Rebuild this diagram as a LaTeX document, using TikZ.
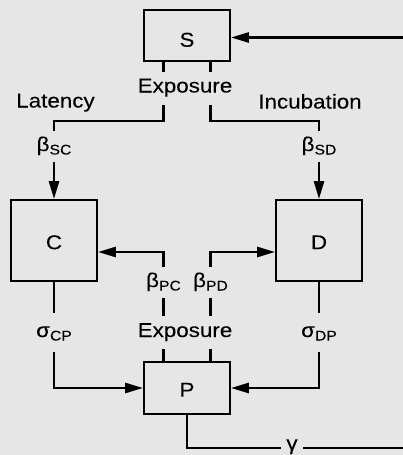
\documentclass[tikz,border=0pt]{standalone}
\usepackage{fontspec}
\setmainfont{Liberation Sans}[FakeStretch=1.12,FakeBold=0.1]
\usepackage{tikz}
\usetikzlibrary{arrows.meta}
\definecolor{bggray}{HTML}{E6E6E6}
\newcommand{\subs}[1]{\raisebox{-3.5pt}{\fontsize{14pt}{14pt}\selectfont #1}}
\tikzset{
  flowarrow/.style={-{Triangle[length=18pt,width=10pt]}, line width=2.6pt, draw=black},
  flowline/.style={line width=2.6pt, draw=black},
  compart/.style={draw=black, line width=1.8pt, fill=bggray, minimum width=86pt,
    text height=17.4pt, text depth=0pt, font=\fontsize{20pt}{24pt}\selectfont},
  rate/.style={fill=bggray, anchor=base, inner xsep=1pt, inner ysep=5pt,
    text height=15pt, text depth=6pt, font=\fontsize{20pt}{24pt}\selectfont},
  tag/.style={anchor=base, inner sep=0pt, font=\fontsize{20pt}{24pt}\selectfont}
}
\begin{document}
\begin{tikzpicture}[x=1pt, y=-1pt]
        \fill[bggray] (0,0) rectangle (403,455);
        \useasboundingbox (0,0) rectangle (403,455);
        % compartments
        \node[compart, minimum height=51pt, text height=22.4pt] (S) at (187,35.5) {S};
        \node[compart, minimum height=81pt] (C) at (54,240.5) {C};
        \node[compart, minimum height=81pt] (D) at (319,240.5) {D};
        \node[compart, minimum height=52pt] (P) at (187,388) {P};
        \coordinate (sret) at (403,37.5);
        \coordinate (gend) at (403,448);

        % flows
        \draw[flowarrow] ([xshift=-23.5pt]S.south) -- ++(0,59) -| (C.north);
        \draw[flowarrow] ([xshift=23.5pt]S.south) -- ++(0,59) -| (D.north);
        \draw[flowarrow] ([xshift=-23.5pt]P.north) |- ([yshift=-11.5pt]C.east);
        \draw[flowarrow] ([xshift=23.5pt]P.north) |- ([yshift=-11.5pt]D.west);
        \draw[flowarrow] (C.south) |- (P.west);
        \draw[flowarrow] (D.south) |- (P.east);
        \draw[flowline] (P.south) |- (gend);
        \draw[flowarrow] (sret) -- (S.east |- sret);

        % labels
        \node[rate, inner ysep=6pt] (expS) at (185,92.5) {Exposure};
        \node[rate, inner ysep=6pt] (expP) at (185,337) {Exposure};
        \node[tag] (lat) at (55.5,107.5) {Latency};
        \node[tag] (inc) at (310,108.5) {Incubation};
        \node[rate] (bsc) at (54,151) {β\subs{SC}};
        \node[rate] (bsd) at (319,151) {β\subs{SD}};
        \node[rate] (bpc) at (163.5,287) {β\subs{PC}};
        \node[rate] (bpd) at (210.5,287) {β\subs{PD}};
        \node[rate, inner ysep=9pt] (scp) at (54,337) {σ\subs{CP}};
        \node[rate, inner ysep=9pt] (sdp) at (319,337) {σ\subs{DP}};
        \node[rate, inner xsep=5pt] (gam) at (292,450) {γ};
    \end{tikzpicture}
\end{document}
